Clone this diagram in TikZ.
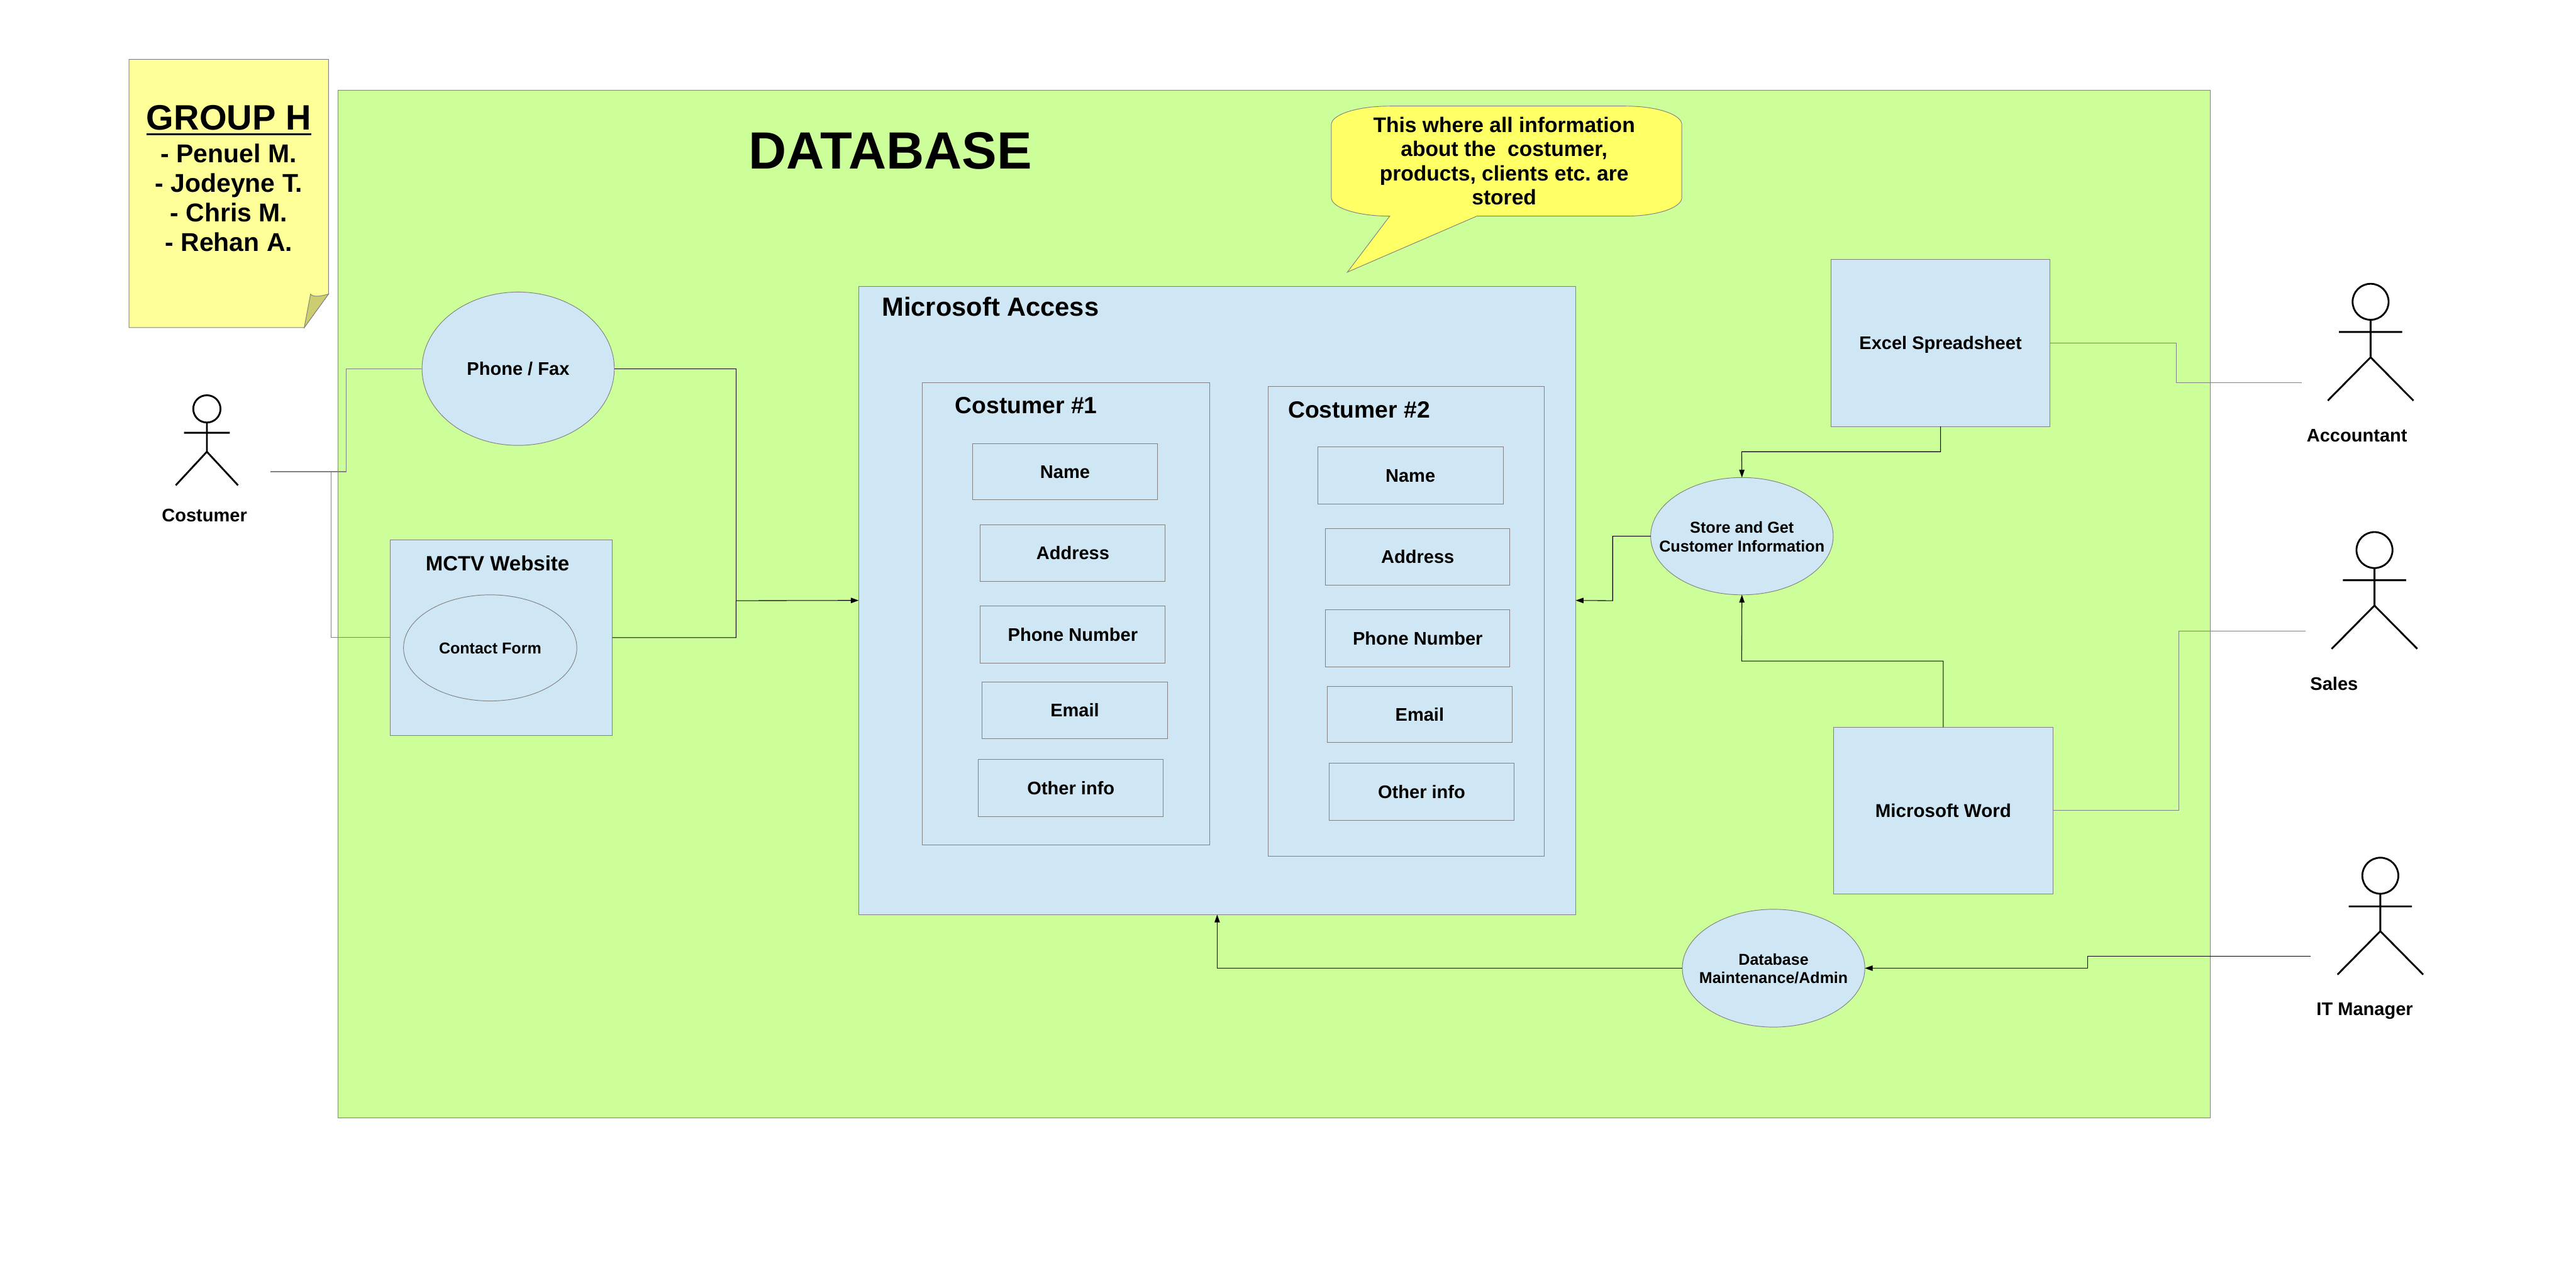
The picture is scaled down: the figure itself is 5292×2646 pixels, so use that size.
\documentclass[tikz,border=0pt]{standalone}
\usepackage{fontspec}
\setmainfont{Liberation Sans}
\usetikzlibrary{arrows.meta,shapes.geometric}
\frenchspacing
\definecolor{grn}{HTML}{CCFF99}
\definecolor{blu}{HTML}{CFE7F5}
\definecolor{stick}{HTML}{FFFF99}
\definecolor{stickfold}{HTML}{CCCC70}
\definecolor{call}{HTML}{FFFF66}
\definecolor{edge}{HTML}{808080}
\newcommand{\rbox}[6]{\node[#6,minimum width={(#4-#2)*0.01cm},minimum height={(#5-#3)*0.01cm}] (#1) at ({(#2+#4)/2},{(#3+#5)/2})}
\newcommand{\actor}[8]{%
  \draw[fig] (#1,#2) circle[radius=#3*0.01cm];
  \draw[fig] (#1,#2+#3) -- (#1,#6) (#1-#5,#4) -- (#1+#5,#4) (#1-#7,#8) -- (#1,#6) -- (#1+#7,#8);}
\tikzset{
  shape box/.style={rectangle,draw=edge,line width=0.35pt,fill=blu,inner sep=0pt,outer sep=0pt,align=center,font=\bfseries\fontsize{10.67pt}{12.8pt}\selectfont,text height=7.6pt,text depth=0pt},
  shape oval/.style={ellipse,draw=edge,line width=0.35pt,fill=blu,inner sep=0pt,outer sep=0pt,align=center},
  capt/.style={inner sep=0pt,outer sep=0pt,align=center,font=\bfseries\fontsize{10.67pt}{12.8pt}\selectfont,text height=7.6pt,text depth=0pt},
  ttl/.style={inner sep=0pt,outer sep=0pt,font=\bfseries},
  plainline/.style={draw=edge,line width=0.4pt},
  blackline/.style={draw=black,line width=0.4pt},
  arrowline/.style={blackline,-{Triangle[length=0.16cm,width=0.11cm]}},
  fig/.style={draw=black,line width=1.05pt}
}
\begin{document}
\begin{tikzpicture}[x=0.01cm,y=-0.01cm]
\useasboundingbox (0,0) rectangle (5292,2646);
% database area
\rbox{area}{694}{185}{4540}{2297}{shape box,fill=grn}{};
% sticky note
\draw[draw=edge,line width=0.35pt,fill=stick] (265,122) -- (675,122) -- (675,604) -- (625,673) -- (265,673) -- cycle;
\draw[draw=edge,line width=0.35pt,fill=stickfold] (625,673) -- (638,604) .. controls (642,610) and (655,610) .. (675,604) -- cycle;
\node[ttl,font=\bfseries\fontsize{20.6pt}{24pt}\selectfont] (group) at (470,247) {\setbox0=\hbox{GROUP H}\copy0\llap{\vrule width\wd0 height -2.28pt depth 3.41pt}};
\node[ttl,align=center,font=\bfseries\fontsize{15.05pt}{17.27pt}\selectfont] (members) at (470,406) {- Penuel M.\\- Jodeyne T.\\- Chris M.\\- Rehan A.};
% heading
\node[ttl,font=\bfseries\fontsize{30.6pt}{32pt}\selectfont] (dbtitle) at (1829,310) {DATABASE};
% callout
\draw[draw=edge,line width=0.35pt,fill=call] (2855,444) .. controls (2789,444) and (2735,427) .. (2735,406) -- (2735,256) .. controls (2735,235) and (2789,218) .. (2855,218) -- (3340,218) .. controls (3403,218) and (3455,235) .. (3455,256) -- (3455,406) .. controls (3455,427) and (3403,444) .. (3340,444) -- (3034,444) -- (2768,559) -- cycle;
\node[ttl,align=center,font=\bfseries\fontsize{12.34pt}{14.14pt}\selectfont] (calltext) at (3090,331) {This where all information\\about the\ \ costumer,\\products, clients etc. are\\stored};
% access
\rbox{access}{1764}{588}{3237}{1879}{shape box}{};
\node[ttl,anchor=west,font=\bfseries\fontsize{15.3pt}{17pt}\selectfont,text height=10.8pt,text depth=0pt] (accesst) at (1812,630) {Microsoft Access};
\rbox{c1}{1895}{786}{2485}{1736}{shape box}{};
\node[ttl,font=\bfseries\fontsize{13.7pt}{16pt}\selectfont,text height=9.7pt,text depth=0pt] (c1t) at (2108,832) {Costumer \#1};
\rbox{n1}{1998}{911}{2378}{1027}{shape box}{Name};
\rbox{a1}{2014}{1078}{2394}{1195}{shape box}{Address};
\rbox{p1}{2014}{1245}{2394}{1362}{shape box}{Phone Number};
\rbox{e1}{2018}{1401}{2398}{1518}{shape box}{Email};
\rbox{o1}{2010}{1560}{2390}{1677}{shape box}{Other info};
\rbox{c2}{2605}{794}{3172}{1759}{shape box}{};
\node[ttl,font=\bfseries\fontsize{13.7pt}{16pt}\selectfont,text height=9.7pt,text depth=0pt] (c2t) at (2792,841) {Costumer \#2};
\rbox{n2}{2707}{918}{3088}{1035}{shape box}{Name};
\rbox{a2}{2723}{1086}{3102}{1202}{shape box}{Address};
\rbox{p2}{2723}{1253}{3102}{1370}{shape box}{Phone Number};
\rbox{e2}{2727}{1410}{3106}{1525}{shape box}{Email};
\rbox{o2}{2731}{1568}{3110}{1685}{shape box}{Other info};
% left side
\rbox{phone}{867}{600}{1262}{915}{shape oval}{};
\node[capt] (phonet) at (phone.center) {Phone / Fax};
\rbox{web}{801}{1109}{1258}{1511}{shape box}{};
\node[ttl,font=\bfseries\fontsize{12.12pt}{14pt}\selectfont,text height=8.7pt,text depth=0pt] (webt) at (1022,1157) {MCTV Website};
\rbox{form}{829}{1222}{1185}{1440}{shape oval}{};
\node[capt,font=\bfseries\fontsize{9.2pt}{12pt}\selectfont,text height=6.6pt] (formt) at (form.center) {Contact Form};
% right side
\rbox{excel}{3762}{533}{4211}{876}{shape box}{Excel Spreadsheet};
\rbox{word}{3767}{1494}{4217}{1836}{shape box,font=\bfseries\fontsize{10.85pt}{13pt}\selectfont,text height=7.8pt}{Microsoft Word};
\rbox{store}{3391}{981}{3766}{1222}{shape oval}{};
\node[capt,font=\bfseries\fontsize{9.25pt}{10.8pt}\selectfont,text height=6.7pt,yshift=-0.2cm] (storet) at (store.center) {Store and Get\\Customer Information};
\rbox{dbm}{3456}{1868}{3831}{2110}{shape oval}{};
\node[capt,font=\bfseries\fontsize{9.19pt}{11pt}\selectfont,text height=6.6pt,yshift=-0.2cm] (dbmt) at (dbm.center) {Database\\Maintenance/Admin};
% junctions
\coordinate (custout) at (556,969);
\coordinate (ja) at (711,969);
\coordinate (jb) at (680,969);
\coordinate (merge) at (1512,1234);
\coordinate (jc) at (4471,786);
\coordinate (acctout) at (4729,786);
\coordinate (jd) at (4476,1296);
\coordinate (salesout) at (4736,1296);
\coordinate (itout) at (4747,1965);
\coordinate (je) at (4289,1965);
\coordinate (jf) at (3313,1234);
\coordinate (jg) at (3578,1358);
\coordinate (jh) at (3578,928);
% connectors
\draw[plainline] (custout) -- (ja) |- (phone.west);
\draw[plainline] (jb) |- (web.west);
\draw[blackline] (phone.east) -| (merge);
\draw[arrowline] (web.east) -| (merge) -- (access.west);
\draw[plainline] (excel.east) -| (jc) -- (acctout);
\draw[arrowline] (excel.south) |- (jh) -- (store.north);
\draw[arrowline] (store.west) -| (jf) -- (access.east);
\draw[arrowline] (word.north) |- (jg) -- (store.south);
\draw[plainline] (word.east) -| (jd) -- (salesout);
\draw[arrowline] (itout) -- (je) |- (dbm.east);
\draw[arrowline] (dbm.west) -| (access.south);
% actors
\actor{425}{840}{28}{889}{47}{928}{64}{997}
\actor{4870}{620}{37}{682}{65}{734}{88}{823}
\actor{4878}{1130}{37}{1192}{65}{1244}{88}{1333}
\actor{4890}{1799}{37}{1862}{65}{1913}{88}{2002}
\node[capt] (lcust) at (420,1058) {Costumer};
\node[capt] (lacct) at (4842,894) {Accountant};
\node[capt] (lsales) at (4795,1404) {Sales};
\node[capt] (lit) at (4858,2073) {IT Manager};
\end{tikzpicture}
\end{document}
